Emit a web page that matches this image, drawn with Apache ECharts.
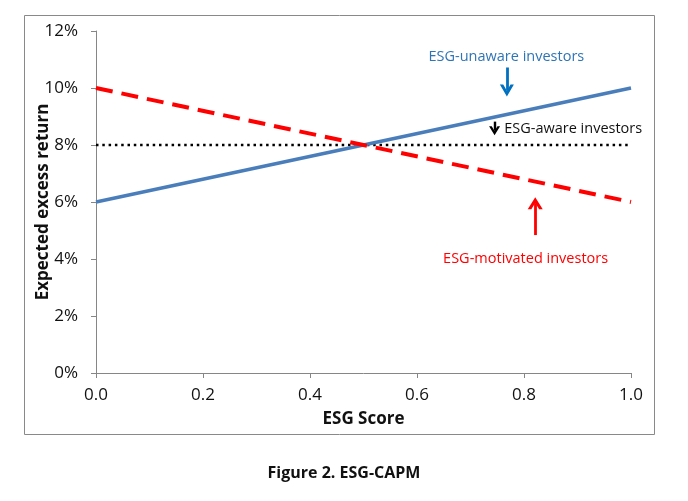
<!DOCTYPE html>
<html>
<head>
<meta charset="utf-8">
<script src="https://cdn.jsdelivr.net/npm/echarts@6/dist/echarts.min.js"></script>
<style>
  html, body { margin: 0; padding: 0; background: #fff; }
  #chart { width: 688px; height: 501px; }
</style>
</head>
<body>
<div id="chart"></div>
<script>
const chartDom = document.getElementById("chart");
let myChart = echarts.init(chartDom);

/** chart data */
const esgScore = [0, 1];
const unaware = [6, 10];
const aware = [8, 8];
const motivated = [10, 6];

/** annotation texts and anchors (data coords) */
const unawareLabel = ["ESG-unaware investors", 0.767, 11.09];
const awareLabel = ["ESG-aware investors", 0.763, 8.56];
const motivatedLabel = ["ESG-motivated investors", 0.803, 4.0];
const unawareArrow = [[0.768, 10.72], [0.768, 9.91]];
const awareArrow = [[0.745, 8.82], [0.745, 8.50]];
const motivatedArrow = [[0.821, 4.84], [0.821, 5.96]];

const font = "'Open Sans', sans-serif";
const arrowHead = "path://M0,10 L5,0 L10,10 L7.6,10 L5,4.8 L2.4,10 Z";

function pairs(xs, ys) {
  return xs.map((x, i) => [x, ys[i]]);
}

/** arrow drawn as a mark line with a chevron at its end */
function arrowLine(pts, color, head, width) {
  return {
    silent: true,
    symbol: ["none", arrowHead],
    lineStyle: { color: color, width: width, type: "solid" },
    label: { show: false },
    data: [[{ coord: pts[0] }, { coord: pts[1], symbolSize: head }]]
  };
}

function textPoint(item, color, align) {
  return {
    silent: true,
    symbol: "circle",
    symbolSize: 0,
    itemStyle: { color: "transparent" },
    data: [{ coord: [item[1], item[2]] }],
    label: {
      show: true,
      position: "inside",
      formatter: item[0],
      color: color,
      fontFamily: font,
      fontSize: 14.5,
      align: align || "center",
      verticalAlign: "middle"
    }
  };
}

let option = {
  animation: false,
  graphic: [{
    type: "rect",
    shape: { x: 24.5, y: 15.5, width: 630, height: 419 },
    style: { fill: "none", stroke: "#898989", lineWidth: 1 }
  }, {
    type: "text",
    left: "center",
    top: 465,
    style: {
      text: "Figure 2. ESG-CAPM",
      fill: "#111",
      font: "bold 16px " + font
    }
  }],
  grid: { left: 96, top: 31, right: 57, bottom: 128 },
  xAxis: {
    type: "value",
    min: 0,
    max: 1,
    interval: 0.2,
    name: "ESG Score",
    nameLocation: "middle",
    nameGap: 38,
    nameMoveOverlap: false,
    nameTextStyle: { fontFamily: font, fontSize: 17, fontWeight: "bold", color: "#111" },
    axisLine: { lineStyle: { color: "#868686", width: 1 } },
    axisTick: { show: true, length: 5, lineStyle: { color: "#868686" } },
    splitLine: { show: false },
    axisLabel: {
      margin: 14,
      fontFamily: font,
      fontSize: 17,
      color: "#111",
      formatter: (v) => v.toFixed(1)
    }
  },
  yAxis: {
    type: "value",
    min: 0,
    max: 12,
    interval: 2,
    name: "Expected excess return",
    nameLocation: "middle",
    nameGap: 44,
    nameMoveOverlap: false,
    nameTextStyle: { fontFamily: font, fontSize: 17, fontWeight: "bold", color: "#111" },
    axisLine: { show: true, lineStyle: { color: "#868686", width: 1 } },
    axisTick: { show: true, length: 5, lineStyle: { color: "#868686" } },
    splitLine: { show: false },
    axisLabel: {
      margin: 18,
      fontFamily: font,
      fontSize: 17,
      color: "#111",
      formatter: "{value}%"
    }
  },
  series: [
    {
      name: "ESG-aware",
      type: "line",
      symbol: "none",
      data: pairs(esgScore, aware),
      lineStyle: { color: "#000", width: 2.5, type: [2.5, 3.8] },
      markLine: arrowLine(awareArrow, "#000", [11, 9], 2.4),
      markPoint: textPoint(awareLabel, "#111", "left")
    },
    {
      name: "ESG-unaware",
      type: "line",
      symbol: "none",
      data: pairs(esgScore, unaware),
      lineStyle: { color: "#4A7EBB", width: 3.6 },
      markLine: arrowLine(unawareArrow, "#0070C0", [14, 12], 2.8),
      markPoint: textPoint(unawareLabel, "#2E75B6")
    },
    {
      name: "ESG-motivated",
      type: "line",
      symbol: "none",
      data: pairs(esgScore, motivated),
      lineStyle: { color: "#FF0000", width: 4, type: [17, 9] },
      markLine: arrowLine(motivatedArrow, "#FF0000", [15, 12], 2.8),
      markPoint: textPoint(motivatedLabel, "#FF0000")
    }
  ]
};

option && myChart.setOption(option);
</script>
</body>
</html>
